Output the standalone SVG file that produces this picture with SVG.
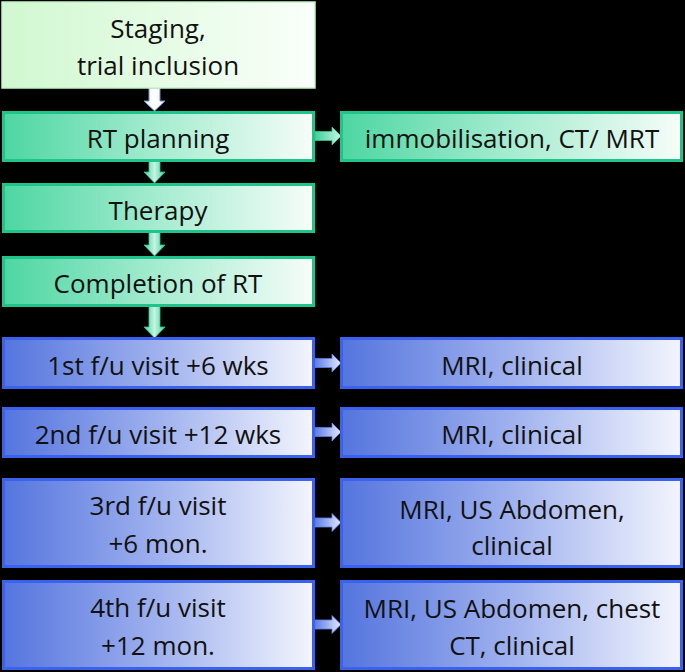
<svg xmlns="http://www.w3.org/2000/svg" width="685" height="672" viewBox="0 0 685 672">
<style>
.t{font-family:"Open Sans","Liberation Sans",sans-serif;font-size:26px;fill:#111;text-anchor:middle}
.g{fill:url(#gg);stroke:#1fc48c;stroke-width:3}
.b{fill:url(#bg);stroke:#3a62ee;stroke-width:3}
.s{fill:url(#sg);stroke:#c4f2c6;stroke-width:1.5}
.ga{fill:url(#gag);stroke:#2ac892;stroke-width:0.8}
.gav{fill:url(#gagv);stroke:#2ac892;stroke-width:0.8}
.ba{fill:url(#bag);stroke:#5d7ee4;stroke-width:0.8}
.wa{fill:url(#wag);stroke:#6d8fc8;stroke-width:1}
</style>
<defs>
<linearGradient id="gg" x1="0" y1="0" x2="1" y2="0"><stop offset="0" stop-color="#4dd6a2"/><stop offset="0.5" stop-color="#a6ecd0"/><stop offset="1" stop-color="#f6fdf9"/></linearGradient>
<linearGradient id="bg" x1="0" y1="0" x2="1" y2="0"><stop offset="0" stop-color="#5575de"/><stop offset="0.5" stop-color="#9fb1ee"/><stop offset="1" stop-color="#f3f5fd"/></linearGradient>
<linearGradient id="sg" x1="0" y1="0" x2="1" y2="0"><stop offset="0" stop-color="#d0f8d0"/><stop offset="1" stop-color="#fafffa"/></linearGradient>
<linearGradient id="gag" x1="0" y1="0" x2="1" y2="0"><stop offset="0" stop-color="#3fcf9c"/><stop offset="1" stop-color="#c8f4e2"/></linearGradient>
<linearGradient id="gagv" x1="0" y1="0" x2="1" y2="0"><stop offset="0" stop-color="#3fcf9c"/><stop offset="0.5" stop-color="#c8f4e2"/><stop offset="1" stop-color="#3fcf9c"/></linearGradient>
<linearGradient id="bag" x1="0" y1="0" x2="1" y2="0"><stop offset="0" stop-color="#5c7de4"/><stop offset="1" stop-color="#e2e8fb"/></linearGradient>
<linearGradient id="wag" x1="0" y1="0" x2="1" y2="0"><stop offset="0" stop-color="#e8f2ff"/><stop offset="0.5" stop-color="#ffffff"/><stop offset="1" stop-color="#e8f2ff"/></linearGradient>
</defs>
<rect width="685" height="672" fill="#000"/>

<g id="connectors">
<polygon class="wa" points="149,88 160,88 160,101 165,101 154.5,111 144,101 149,101"/>
<polygon class="gav" points="149,161 160,161 160,172 165,172 154.5,183 144,172 149,172"/>
<polygon class="gav" points="149,232 160,232 160,245 165,245 154.5,256 144,245 149,245"/>
<polygon class="gav" points="149,306 160,306 160,327 165,327 154.5,338 144,327 149,327"/>
<polygon class="ga" points="315,131.5 332,131.5 332,127 341,136 332,145 332,140.5 315,140.5"/>
<polygon class="ba" points="315,358.5 332,358.5 332,354 341,363 332,372 332,367.5 315,367.5"/>
<polygon class="ba" points="315,427.5 332,427.5 332,423 341,432 332,441 332,436.5 315,436.5"/>
<polygon class="ba" points="315,518 332,518 332,513.5 341,522.5 332,531.5 332,527 315,527"/>
<polygon class="ba" points="315,620 332,620 332,615.5 341,624.5 332,633.5 332,629 315,629"/>
</g>

<g id="staging"><rect class="s" x="2" y="2" width="313" height="86"/>
<text class="t" x="158" y="38">Staging,</text><text class="t" x="158" y="75">trial inclusion</text></g>

<g id="rtplanning"><rect class="g" x="3.5" y="112.5" width="310" height="48"/>
<text class="t" x="158" y="148">RT planning</text></g>

<g id="immobilisation"><rect class="g" x="341.5" y="112.5" width="340" height="48"/>
<text class="t" x="512" y="148">immobilisation, CT/ MRT</text></g>

<g id="therapy"><rect class="g" x="3.5" y="184.5" width="310" height="47"/>
<text class="t" x="158" y="220">Therapy</text></g>

<g id="completion"><rect class="g" x="3.5" y="257.5" width="310" height="48"/>
<text class="t" x="158" y="293">Completion of RT</text></g>

<g id="fu1"><rect class="b" x="3.5" y="338.5" width="310" height="49"/>
<text class="t" x="158" y="375">1st f/u visit +6 wks</text></g>

<g id="mri1"><rect class="b" x="341.5" y="338.5" width="340" height="49"/>
<text class="t" x="512" y="375">MRI, clinical</text></g>

<g id="fu2"><rect class="b" x="3.5" y="408.5" width="310" height="48"/>
<text class="t" x="158" y="444">2nd f/u visit +12 wks</text></g>

<g id="mri2"><rect class="b" x="341.5" y="408.5" width="340" height="48"/>
<text class="t" x="512" y="444">MRI, clinical</text></g>

<g id="fu3"><rect class="b" x="3.5" y="479.5" width="310" height="87"/>
<text class="t" x="158" y="515">3rd f/u visit</text><text class="t" x="158" y="553">+6 mon.</text></g>

<g id="mri3"><rect class="b" x="341.5" y="479.5" width="340" height="87"/>
<text class="t" x="512" y="519">MRI, US Abdomen,</text><text class="t" x="512" y="555">clinical</text></g>

<g id="fu4"><rect class="b" x="3.5" y="581.5" width="310" height="87"/>
<text class="t" x="158" y="617">4th f/u visit</text><text class="t" x="158" y="655">+12 mon.</text></g>

<g id="mri4"><rect class="b" x="341.5" y="581.5" width="340" height="87"/>
<text class="t" x="512" y="618">MRI, US Abdomen, chest</text><text class="t" x="512" y="655">CT, clinical</text></g>
</svg>
